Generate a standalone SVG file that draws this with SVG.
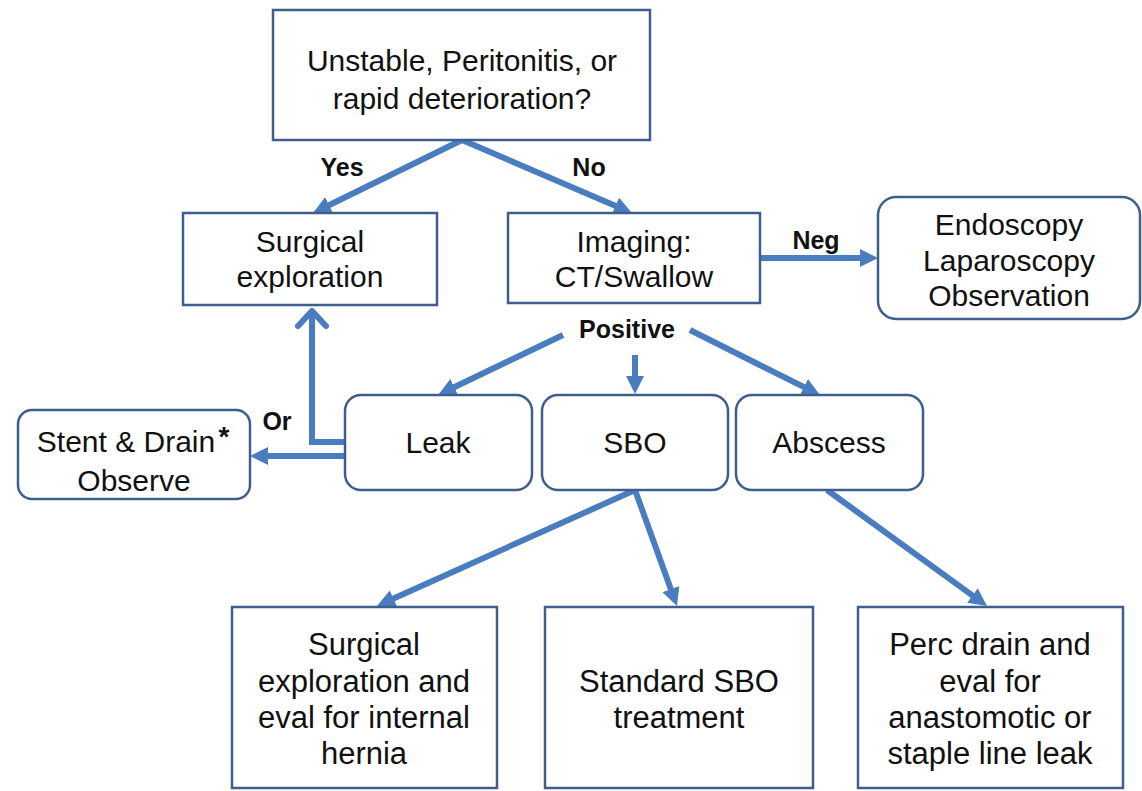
<svg xmlns="http://www.w3.org/2000/svg" width="1142" height="791" viewBox="0 0 1142 791">
<style>
.box{fill:#fff;stroke:#3E5F8E;stroke-width:2.5}
.t{font-family:"Liberation Sans",Arial,sans-serif;font-size:30px;fill:#111;text-anchor:middle}
.n{font-family:"Liberation Sans",Arial,sans-serif;font-size:31px;fill:#111;text-anchor:middle}
.b{font-family:"Liberation Sans",Arial,sans-serif;font-size:25px;font-weight:bold;fill:#111;text-anchor:middle}
.c{fill:none;stroke:#4A7DBF;stroke-width:6}
</style>
<defs>
<marker id="ah" viewBox="0 0 10 10" refX="3" refY="5" markerWidth="18" markerHeight="18" markerUnits="userSpaceOnUse" orient="auto">
<path d="M0,0 L10,5 L0,10 z" fill="#4A7DBF"/>
</marker>
</defs>
<rect width="1142" height="791" fill="#fff"/>
<g id="connectors">
<line class="c" x1="462" y1="140" x2="324.3" y2="207.5" marker-end="url(#ah)"/>
<line class="c" x1="462" y1="140" x2="620.4" y2="208" marker-end="url(#ah)"/>
<line class="c" x1="760" y1="258" x2="865.4" y2="258" marker-end="url(#ah)"/>
<line class="c" x1="563" y1="335" x2="449.4" y2="389.5" marker-end="url(#ah)"/>
<line class="c" x1="635" y1="355" x2="635" y2="381.4" marker-end="url(#ah)"/>
<line class="c" x1="690" y1="330" x2="808.7" y2="389.4" marker-end="url(#ah)"/>
<polyline class="c" points="345,442 312,442 312,310"/>
<polyline class="c" points="298,326 312,311 326,326" stroke-linecap="round" stroke-linejoin="round"/>
<line class="c" x1="345" y1="456" x2="262.6" y2="456" marker-end="url(#ah)"/>
<line class="c" x1="635" y1="490" x2="388.5" y2="600.8" marker-end="url(#ah)"/>
<line class="c" x1="635" y1="490" x2="672.7" y2="594.2" marker-end="url(#ah)"/>
<line class="c" x1="827" y1="490" x2="976.8" y2="598.6" marker-end="url(#ah)"/>
<text class="b" x="342" y="176">Yes</text>
<text class="b" x="589" y="176">No</text>
<text class="b" x="816" y="249">Neg</text>
<text class="b" x="627" y="338">Positive</text>
<text class="b" x="277" y="430">Or</text>
</g>
<g id="n-question">
<rect class="box" x="273" y="10" width="377" height="130"/>
<text class="t" x="462" y="71">Unstable, Peritonitis, or</text>
<text class="t" x="462" y="109">rapid deterioration?</text>
</g>
<g id="n-surgical">
<rect class="box" x="183" y="213" width="254" height="92"/>
<text class="t" x="310" y="252">Surgical</text>
<text class="t" x="310" y="287">exploration</text>
</g>
<g id="n-imaging">
<rect class="box" x="508" y="213" width="252" height="90"/>
<text class="t" x="634" y="252">Imaging:</text>
<text class="t" x="634" y="287">CT/Swallow</text>
</g>
<g id="n-endoscopy">
<rect class="box" x="878" y="197" width="262" height="122" rx="18"/>
<text class="t" x="1009" y="235">Endoscopy</text>
<text class="t" x="1009" y="271">Laparoscopy</text>
<text class="t" x="1009" y="306">Observation</text>
</g>
<g id="n-stent">
<rect class="box" x="18" y="410" width="232" height="89" rx="14"/>
<text class="t" x="126" y="452">Stent &amp; Drain</text>
<text class="b" x="224" y="446" style="font-size:28px">*</text>
<text class="t" x="134" y="491">Observe</text>
</g>
<g id="n-leak">
<rect class="box" x="345" y="395" width="187" height="95" rx="16"/>
<text class="t" x="438" y="453">Leak</text>
</g>
<g id="n-sbo">
<rect class="box" x="542" y="395" width="186" height="95" rx="16"/>
<text class="t" x="635" y="453">SBO</text>
</g>
<g id="n-abscess">
<rect class="box" x="736" y="395" width="187" height="95" rx="16"/>
<text class="t" x="829" y="453">Abscess</text>
</g>
<g id="n-hernia">
<rect class="box" x="232" y="607" width="265" height="181"/>
<text class="n" x="364" y="655">Surgical</text>
<text class="n" x="364" y="692">exploration and</text>
<text class="n" x="364" y="728">eval for internal</text>
<text class="n" x="364" y="764">hernia</text>
</g>
<g id="n-standard">
<rect class="box" x="545" y="607" width="268" height="181"/>
<text class="n" x="679" y="692">Standard SBO</text>
<text class="n" x="679" y="728">treatment</text>
</g>
<g id="n-perc">
<rect class="box" x="858" y="607" width="265" height="181"/>
<text class="n" x="990" y="655">Perc drain and</text>
<text class="n" x="990" y="692">eval for</text>
<text class="n" x="990" y="728">anastomotic or</text>
<text class="n" x="990" y="764">staple line leak</text>
</g>
</svg>
